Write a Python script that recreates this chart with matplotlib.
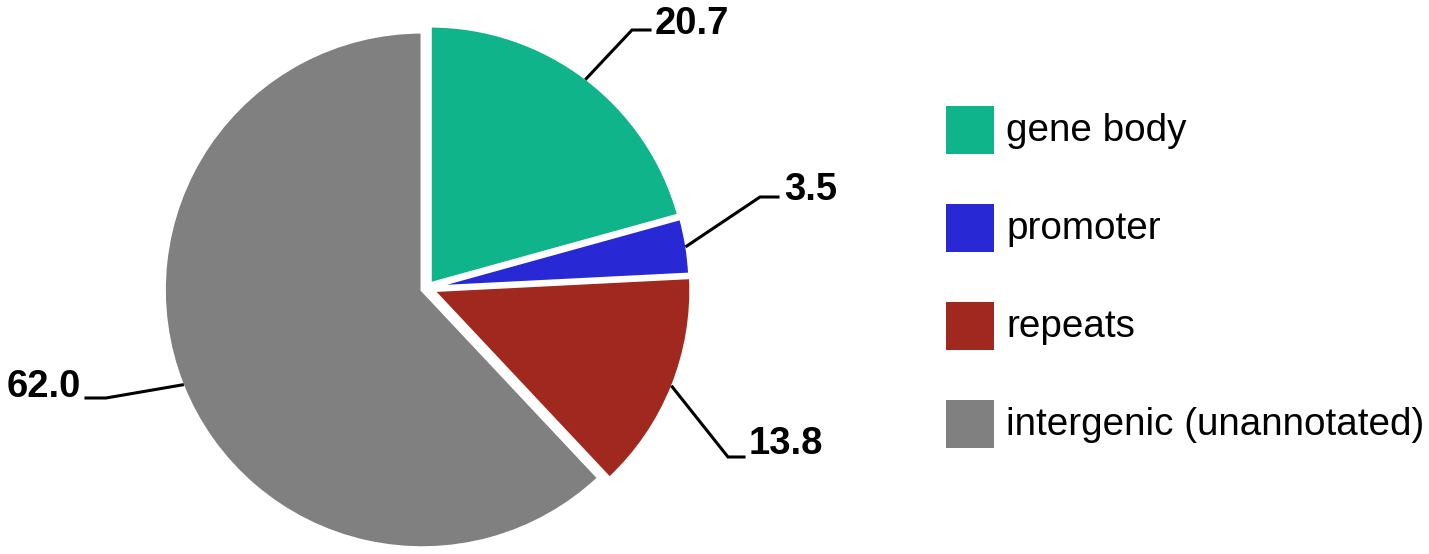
import numpy as np
import matplotlib
matplotlib.use("Agg")
import matplotlib.pyplot as plt
from matplotlib.patches import Rectangle

plt.rcParams['font.family'] = ['Liberation Sans', 'DejaVu Sans']

# data
categories = ['gene body', 'promoter', 'repeats', 'intergenic (unannotated)']
values = [20.7, 3.5, 13.8, 62.0]
colors = ['#10B48B', '#2828D4', '#A0281E', '#808080']

W, H = 1429, 554
cx, cy, R = 427, 288, 258  # pie centre / radius in pixels


def px(x, y):
    # pixel position (from top-left) -> data units (pie radius = 1)
    return (x - cx) / R, (cy - y) / R


fig = plt.figure(figsize=(W / 100, H / 100), dpi=100)
ax = fig.add_axes([0, 0, 1, 1])

explode = [0.02, 0.02, 0.025, 0.02]
wedges, _ = ax.pie(values, colors=colors, startangle=90, counterclock=False,
                   explode=explode, radius=1, frame=True,
                   wedgeprops=dict(edgecolor='white', linewidth=2.4))
ax.set_xlim(-cx / R, (W - cx) / R)
ax.set_ylim(-(H - cy) / R, cy / R)
ax.set_aspect('equal')
ax.axis('off')

# leader lines: elbow point, end of horizontal tick, text anchor (pixels)
elbows = [(632, 30), (760, 197), (728, 457), (106, 398)]
ends = [(650, 30), (778, 197), (744, 457), (86, 398)]
text_pos = [(655, 24), (784, 190), (749, 444), (81, 387)]
aligns = ['left', 'left', 'left', 'right']

for w, v, e, en, tp, al, ex in zip(wedges, values, elbows, ends, text_pos, aligns, explode):
    ang = np.deg2rad((w.theta1 + w.theta2) / 2)
    r0 = 1.0 + ex
    x0, y0 = r0 * np.cos(ang), r0 * np.sin(ang)
    ex_, ey_ = px(*e)
    nx, ny = px(*en)
    ax.plot([x0, ex_, nx], [y0, ey_, ny], color='black', lw=2.2,
            solid_joinstyle='miter', zorder=3)
    tx, ty = px(*tp)
    ax.text(tx, ty, f'{v:.1f}', ha=al, va='center', fontsize=27.5,
            fontweight='bold', color='black')

# legend (squares + labels), drawn by hand for exact spacing
box = 48 / R
for i, (lab, col) in enumerate(zip(categories, colors)):
    top = 106 + 98 * i
    x0, y0 = px(946, top + 48)
    ax.add_patch(Rectangle((x0, y0), box, box, facecolor=col, edgecolor='none'))
    tx, ty = px(1006, top + 24 + 11)
    ax.text(tx, ty, lab, ha='left', va='baseline', fontsize=27.8, color='black')

fig.savefig('out.png', dpi=100)
